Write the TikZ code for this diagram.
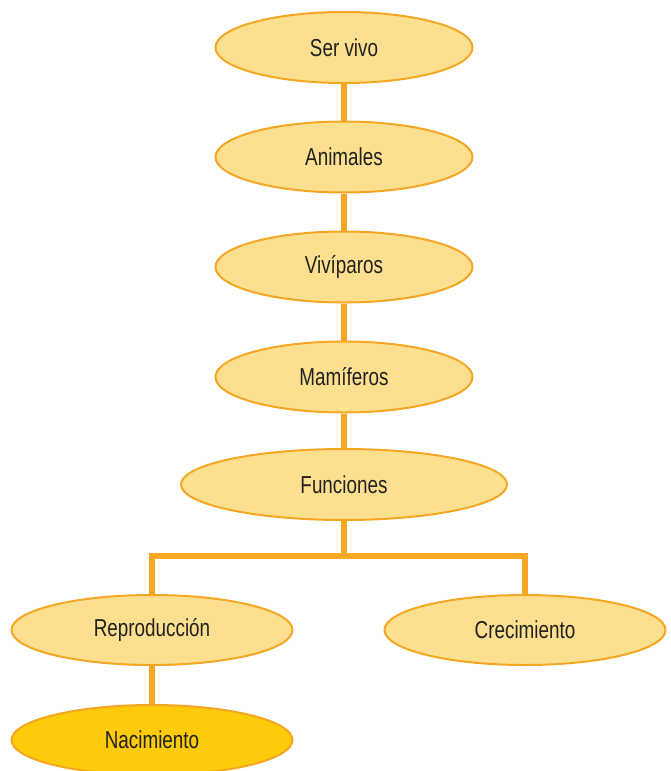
\documentclass[tikz,border=0pt]{standalone}
\usepackage{fontspec}
\setmainfont{Liberation Sans}[FakeStretch=0.77]
\usetikzlibrary{shapes.geometric,backgrounds}
\definecolor{edgeor}{HTML}{F5A623}
\definecolor{lightfill}{HTML}{FDE08F}
\definecolor{darkfill}{HTML}{FDCB0A}
\definecolor{txt}{HTML}{222222}
\tikzset{
  concept/.style={ellipse, draw=edgeor, line width=2pt, fill=lightfill, inner sep=0pt,
    minimum width=257pt, minimum height=71pt, text=txt, font=\fontsize{24.5}{28}\selectfont},
  wide/.style={minimum width=326pt},
  low/.style={minimum width=281pt, minimum height=70pt},
  leaf/.style={fill=darkfill},
  link/.style={draw=edgeor, line width=6pt}
}
\begin{document}
\begin{tikzpicture}[x=1pt,y=-1pt]
\useasboundingbox (0,0) rectangle (670,771);
\node[concept] (ser) at (344,47.5) {Ser vivo};
\node[concept] (ani) at (344,157) {Animales};
\node[concept] (viv) at (344,267) {Vivíparos};
\node[concept] (mam) at (344,377) {Mamíferos};
\node[concept,wide] (fun) at (344,484.5) {Funciones};
\node[concept,low] (rep) at (152,630) {Reproducción};
\node[concept,low] (cre) at (525,630) {Crecimiento};
\node[concept,low,leaf] (nac) at (152,740) {Nacimiento};
\coordinate (j) at (344,556);
\begin{scope}[on background layer]
  \draw[link] (ser) -- (ani);
  \draw[link] (ani) -- (viv);
  \draw[link] (viv) -- (mam);
  \draw[link] (mam) -- (fun);
  \draw[link] (fun.south) -- (j);
  \draw[link] (j) -| (rep.north);
  \draw[link] (j) -| (cre.north);
  \draw[link] (rep) -- (nac);
\end{scope}
\end{tikzpicture}
\end{document}
